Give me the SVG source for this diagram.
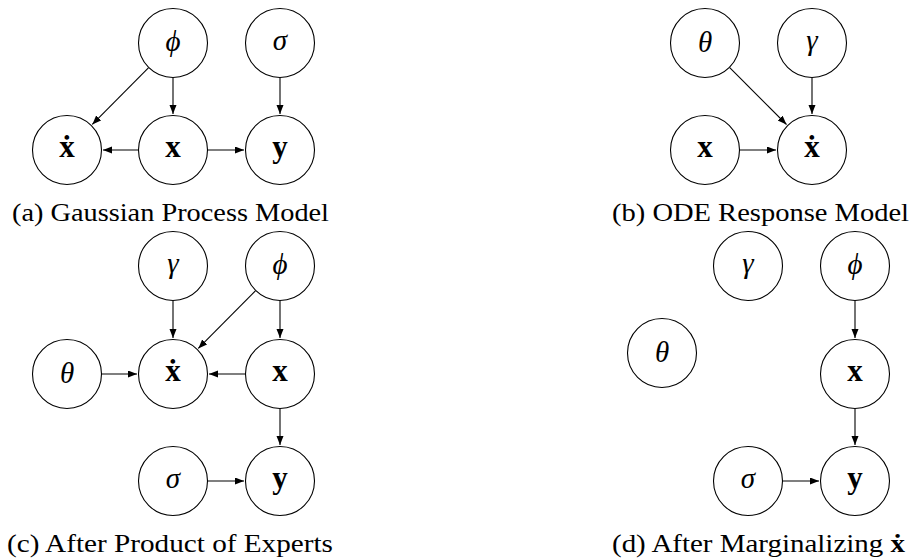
<svg xmlns="http://www.w3.org/2000/svg" width="911" height="558" viewBox="0 0 911 558">
<style>
.n circle{fill:#fff;stroke:#000;stroke-width:1.1}
.g{font-family:"Liberation Serif","DejaVu Serif",serif;font-style:italic;font-size:29px;text-anchor:middle;fill:#000}
.b{font-family:"Liberation Serif","DejaVu Serif",serif;font-weight:bold;font-size:31px;text-anchor:middle;fill:#000}
.cap{font-family:"Liberation Serif","DejaVu Serif",serif;font-size:26px;fill:#000}
#edges line{stroke:#000;stroke-width:1.1;marker-end:url(#ah)}
</style>
<defs>
<marker id="ah" markerUnits="userSpaceOnUse" markerWidth="10" markerHeight="8" refX="9" refY="3.5" orient="auto">
<path d="M0,0 L9,3.5 L0,7 Z" fill="#000"/>
</marker>
</defs>
<rect width="911" height="558" fill="#fff"/>
<g id="edges">
<!-- (a) -->
<line x1="148.4" y1="67.9" x2="92.3" y2="124.4"/>
<line x1="173" y1="78" x2="173" y2="114"/>
<line x1="138" y1="150" x2="103" y2="150"/>
<line x1="208" y1="150" x2="244" y2="150"/>
<line x1="280" y1="78" x2="280" y2="114"/>
<!-- (b) -->
<line x1="729.7" y1="67.7" x2="786.5" y2="124.5"/>
<line x1="812" y1="78" x2="812" y2="114"/>
<line x1="740" y1="150" x2="776" y2="150"/>
<!-- (c) -->
<line x1="173" y1="301" x2="173" y2="338"/>
<line x1="255.4" y1="290.9" x2="198.3" y2="348.4"/>
<line x1="280" y1="301" x2="280" y2="338"/>
<line x1="102" y1="374" x2="137" y2="374"/>
<line x1="245" y1="374" x2="209" y2="374"/>
<line x1="280" y1="409" x2="280" y2="445"/>
<line x1="208" y1="481" x2="244" y2="481"/>
<!-- (d) -->
<line x1="855" y1="301" x2="855" y2="338"/>
<line x1="855" y1="409" x2="855" y2="445"/>
<line x1="783" y1="481" x2="819" y2="481"/>
</g>
<!-- (a) nodes -->
<g id="a_phi" class="n"><circle cx="173" cy="43" r="34.5"/><text class="g" x="173" y="51">ϕ</text></g>
<g id="a_sigma" class="n"><circle cx="280" cy="43" r="34.5"/><text class="g" x="280" y="50">σ</text></g>
<g id="a_xdot" class="n"><circle cx="67" cy="150" r="34.5"/><text class="b" x="67" y="157">ẋ</text></g>
<g id="a_x" class="n"><circle cx="173" cy="150" r="34.5"/><text class="b" x="173" y="157">x</text></g>
<g id="a_y" class="n"><circle cx="280" cy="150" r="34.5"/><text class="b" x="280" y="157">y</text></g>
<g id="cap_a"><text class="cap" x="12" y="221" textLength="317" lengthAdjust="spacingAndGlyphs">(a) Gaussian Process Model</text></g>
<!-- (b) nodes -->
<g id="b_theta" class="n"><circle cx="705" cy="43" r="34.5"/><text class="g" x="705" y="52">θ</text></g>
<g id="b_gamma" class="n"><circle cx="812" cy="43" r="34.5"/><text class="g" x="812" y="50">γ</text></g>
<g id="b_x" class="n"><circle cx="705" cy="150" r="34.5"/><text class="b" x="705" y="157">x</text></g>
<g id="b_xdot" class="n"><circle cx="812" cy="150" r="34.5"/><text class="b" x="812" y="157">ẋ</text></g>
<g id="cap_b"><text class="cap" x="612" y="221" textLength="297" lengthAdjust="spacingAndGlyphs">(b) ODE Response Model</text></g>
<!-- (c) nodes -->
<g id="c_gamma" class="n"><circle cx="173" cy="266" r="34.5"/><text class="g" x="173" y="273">γ</text></g>
<g id="c_phi" class="n"><circle cx="280" cy="266" r="34.5"/><text class="g" x="280" y="274">ϕ</text></g>
<g id="c_theta" class="n"><circle cx="67" cy="374" r="34.5"/><text class="g" x="67" y="383">θ</text></g>
<g id="c_xdot" class="n"><circle cx="173" cy="374" r="34.5"/><text class="b" x="173" y="381">ẋ</text></g>
<g id="c_x" class="n"><circle cx="280" cy="374" r="34.5"/><text class="b" x="280" y="381">x</text></g>
<g id="c_sigma" class="n"><circle cx="173" cy="481" r="34.5"/><text class="g" x="173" y="488">σ</text></g>
<g id="c_y" class="n"><circle cx="280" cy="481" r="34.5"/><text class="b" x="280" y="488">y</text></g>
<g id="cap_c"><text class="cap" x="7" y="552" textLength="326" lengthAdjust="spacingAndGlyphs">(c) After Product of Experts</text></g>
<!-- (d) nodes -->
<g id="d_gamma" class="n"><circle cx="748" cy="266" r="34.5"/><text class="g" x="748" y="273">γ</text></g>
<g id="d_phi" class="n"><circle cx="855" cy="266" r="34.5"/><text class="g" x="855" y="274">ϕ</text></g>
<g id="d_theta" class="n"><circle cx="662" cy="353" r="34.5"/><text class="g" x="662" y="362">θ</text></g>
<g id="d_x" class="n"><circle cx="855" cy="374" r="34.5"/><text class="b" x="855" y="381">x</text></g>
<g id="d_sigma" class="n"><circle cx="748" cy="481" r="34.5"/><text class="g" x="748" y="488">σ</text></g>
<g id="d_y" class="n"><circle cx="855" cy="481" r="34.5"/><text class="b" x="855" y="488">y</text></g>
<g id="cap_d"><text class="cap" x="612" y="552" textLength="293" lengthAdjust="spacingAndGlyphs">(d) After Marginalizing <tspan font-weight="bold">ẋ</tspan></text></g>
</svg>
